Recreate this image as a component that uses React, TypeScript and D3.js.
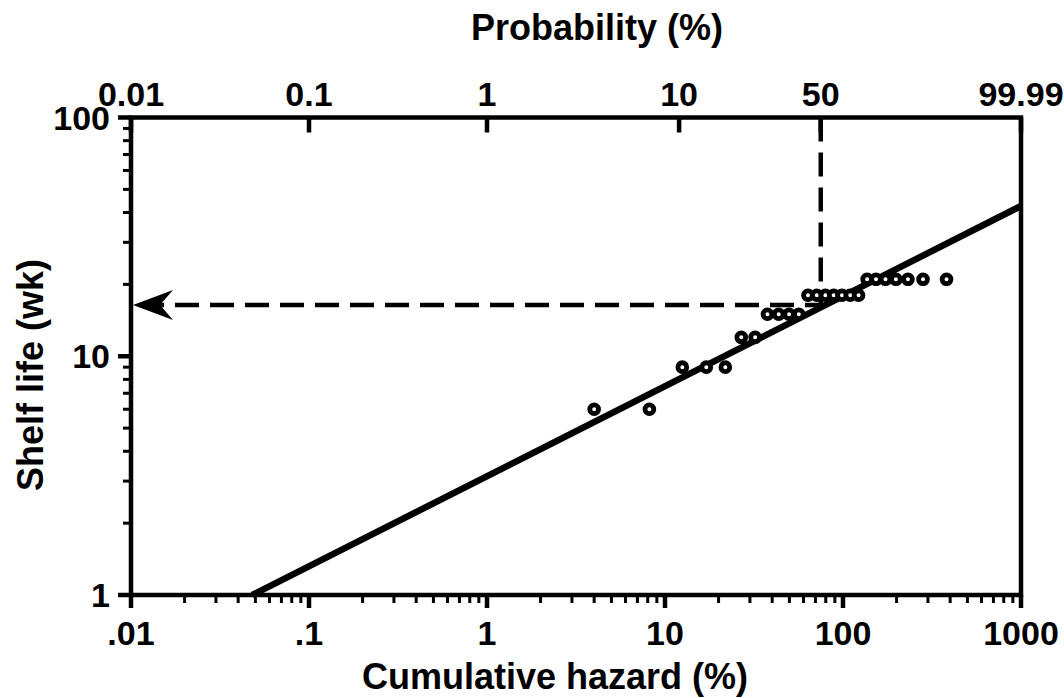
import * as d3 from 'd3';

// Weibull hazard plot data
const shelfLife = [6, 6, 9, 9, 9, 12, 12, 15, 15, 15, 15, 18, 18, 18, 18, 18, 18, 18, 21, 21, 21, 21, 21, 21, 21];
const cumHazard = [4.0, 8.17, 12.51, 17.06, 21.82, 26.82, 32.08, 37.64, 43.52, 49.77, 56.44, 63.58, 71.27, 79.61, 88.7, 98.7, 109.81, 122.31, 136.6, 153.26, 173.26, 198.26, 231.6, 281.6, 381.6];

// fitted line end points
const fitHazard = [0.048, 1000];
const fitLife = [1, 42.6];

// median read-off (dashed guide)
const medianHazard = 75;
const medianLife = 16.4;

const bottomTicks = [0.01, 0.1, 1, 10, 100, 1000];
const bottomLabels = ['.01', '.1', '1', '10', '100', '1000'];
const topTickHazard = [0.01, 0.1, 1, 12, 75, 1000];
const topLabels = ['0.01', '0.1', '1', '10', '50', '99.99'];
const yTicks = [1, 10, 100];
const yLabels = ['1', '10', '100'];

const W = 1064;
const H = 698;
const left = 131, right = 1021, top = 117.5, bottom = 595;
const font = '"Liberation Sans", Arial, sans-serif';

export default function App() {
  const x = d3.scaleLog().domain([0.01, 1000]).range([left, right]);
  const y = d3.scaleLog().domain([1, 100]).range([bottom, top]);

  const xMinor = x.ticks().filter(t => !bottomTicks.some(b => Math.abs(b - t) / b < 1e-6));
  const yMinor = y.ticks().filter(t => !yTicks.some(b => Math.abs(b - t) / b < 1e-6));

  const line = d3.line<number>()
    .x((_, i) => x(fitHazard[i]))
    .y(d => y(d));

  const my = y(medianLife);
  const mx = x(medianHazard);
  const ax = x(0.01) + 2;

  return (
    <svg width={W} height={H} style={{ position: 'absolute', left: 0, top: 0, background: '#fff' }}>
      {/* minor ticks */}
      {xMinor.map(t => (
        <line key={'xm' + t} x1={x(t)} x2={x(t)} y1={bottom} y2={bottom + 8} stroke="#000" strokeWidth={3} />
      ))}
      {yMinor.map(t => (
        <line key={'ym' + t} x1={left} x2={left - 8} y1={y(t)} y2={y(t)} stroke="#000" strokeWidth={3} />
      ))}
      {/* major ticks */}
      {bottomTicks.map(t => (
        <line key={'xM' + t} x1={x(t)} x2={x(t)} y1={bottom} y2={bottom + 13} stroke="#000" strokeWidth={4.5} />
      ))}
      {yTicks.map(t => (
        <line key={'yM' + t} x1={left} x2={left - 13} y1={y(t)} y2={y(t)} stroke="#000" strokeWidth={4.5} />
      ))}
      {topTickHazard.map(t => (
        <line key={'tM' + t} x1={x(t)} x2={x(t)} y1={top} y2={top + 15} stroke="#000" strokeWidth={4.5} />
      ))}

      {/* frame */}
      <rect x={left} y={top} width={right - left} height={bottom - top} fill="none" stroke="#000" strokeWidth={4.5} />

      {/* dashed guides */}
      <line x1={mx} x2={mx} y1={top} y2={my} stroke="#000" strokeWidth={4.5} strokeDasharray="24 11" />
      <line x1={left + 9} x2={mx} y1={my} y2={my} stroke="#000" strokeWidth={4.5} strokeDasharray="24 11" />
      <path d={`M${ax},${my} L${ax + 40},${my - 15} L${ax + 27},${my} L${ax + 40},${my + 15} Z`} fill="#000" />

      {/* fitted line */}
      <path d={line(fitLife) || ''} stroke="#000" strokeWidth={6.5} fill="none" />

      {/* data points */}
      {cumHazard.map((h, i) => (
        <circle key={i} cx={x(h)} cy={y(shelfLife[i])} r={4.4} fill="#fff" stroke="#000" strokeWidth={4.8} />
      ))}

      {/* tick labels */}
      <g fontFamily={font} fontWeight="bold" fontSize={34} fill="#000">
        {bottomTicks.map((t, i) => (
          <text key={'bl' + t} x={x(t)} y={645} textAnchor="middle">{bottomLabels[i]}</text>
        ))}
        {topTickHazard.map((t, i) => (
          <text key={'tl' + t} x={x(t)} y={106} textAnchor="middle">{topLabels[i]}</text>
        ))}
        {yTicks.map((t, i) => (
          <text key={'yl' + t} x={110} y={y(t)} dy="0.36em" textAnchor="end">{yLabels[i]}</text>
        ))}
      </g>

      {/* axis titles */}
      <g fontFamily={font} fontWeight="bold" fontSize={36} fill="#000">
        <text x={597} y={40} textAnchor="middle">Probability (%)</text>
        <text x={555} y={689} textAnchor="middle">Cumulative hazard (%)</text>
        <text transform={`translate(43,375) rotate(-90)`} textAnchor="middle">Shelf life (wk)</text>
      </g>
    </svg>
  );
}
